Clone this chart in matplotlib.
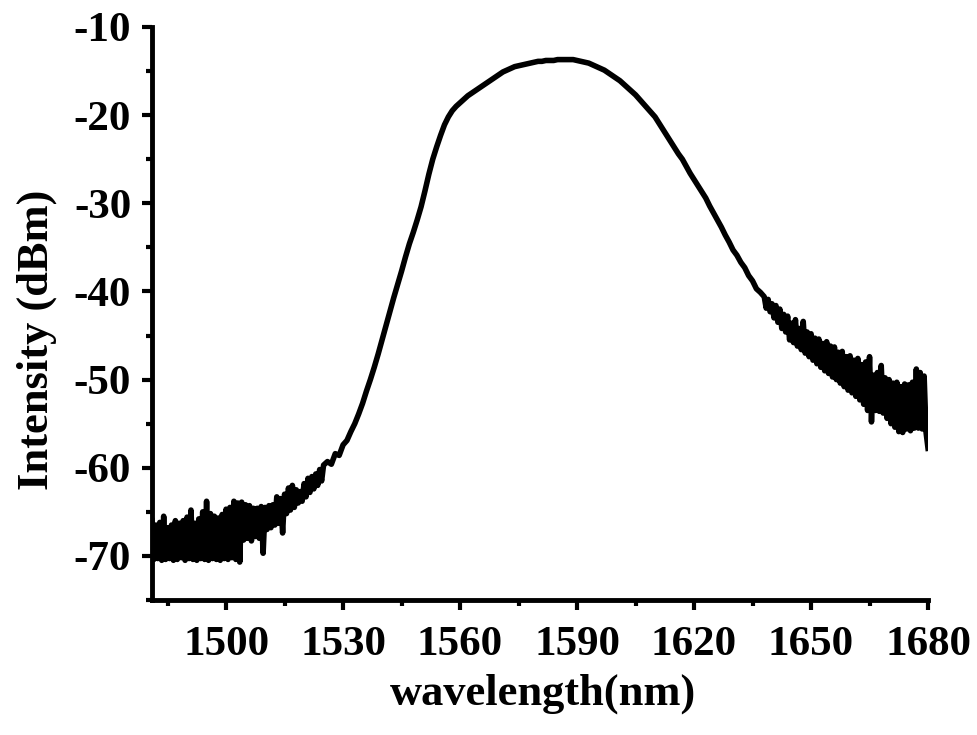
import matplotlib
matplotlib.use("Agg")
import matplotlib.pyplot as plt
from matplotlib.ticker import MultipleLocator

plt.rcParams['font.family'] = ['Liberation Serif', 'DejaVu Serif']
plt.rcParams['axes.unicode_minus'] = False

# wavelength (nm) (denser where the trace is noisy)
wavelength = [
    1481.0, 1481.5, 1482.0, 1482.5, 1483.0, 1483.5, 1484.0, 1484.5, 1485.0, 1485.5,
    1486.0, 1486.5, 1487.0, 1487.5, 1488.0, 1488.5, 1489.0, 1489.5, 1490.0, 1490.5,
    1491.0, 1491.5, 1492.0, 1492.5, 1493.0, 1493.5, 1494.0, 1494.5, 1495.0, 1495.5,
    1496.0, 1496.5, 1497.0, 1497.5, 1498.0, 1498.5, 1499.0, 1499.5, 1500.0, 1500.5,
    1501.0, 1501.5, 1502.0, 1502.5, 1503.0, 1503.5, 1504.0, 1504.5, 1505.0, 1505.5,
    1506.0, 1506.5, 1507.0, 1507.5, 1508.0, 1508.5, 1509.0, 1509.5, 1510.0, 1510.5,
    1511.0, 1511.5, 1512.0, 1512.5, 1513.0, 1513.5, 1514.0, 1514.5, 1515.0, 1515.5,
    1516.0, 1516.5, 1517.0, 1517.5, 1518.0, 1518.5, 1519.0, 1519.5, 1520.0, 1520.5,
    1521.0, 1521.5, 1522.0, 1522.5, 1523.0, 1523.5, 1524.0, 1524.5, 1525.0,
    1526, 1527, 1528, 1529, 1530,
    1531, 1532, 1533, 1534, 1535, 1536, 1537, 1538, 1539, 1540,
    1541, 1542, 1543, 1544, 1545, 1546, 1547, 1548, 1549, 1550,
    1551, 1552, 1553, 1554, 1555, 1556, 1557, 1558, 1559, 1560,
    1561, 1562, 1563, 1564, 1565, 1566, 1567, 1568, 1569, 1570,
    1571, 1572, 1573, 1574, 1575, 1576, 1577, 1578, 1579, 1580,
    1581, 1582, 1583, 1584, 1585, 1586, 1587, 1588, 1589, 1590,
    1591, 1592, 1593, 1594, 1595, 1596, 1597, 1598, 1599, 1600,
    1601, 1602, 1603, 1604, 1605, 1606, 1607, 1608, 1609, 1610,
    1611, 1612, 1613, 1614, 1615, 1616, 1617, 1618, 1619, 1620,
    1621, 1622, 1623, 1624, 1625, 1626, 1627, 1628, 1629, 1630,
    1631, 1632, 1633, 1634, 1635, 1636, 1637,
    1638.0, 1638.5, 1639.0, 1639.5, 1640.0, 1640.5, 1641.0, 1641.5, 1642.0, 1642.5,
    1643.0, 1643.5, 1644.0, 1644.5, 1645.0, 1645.5, 1646.0, 1646.5, 1647.0, 1647.5,
    1648.0, 1648.5, 1649.0, 1649.5, 1650.0, 1650.5, 1651.0, 1651.5, 1652.0, 1652.5,
    1653.0, 1653.5, 1654.0, 1654.5, 1655.0, 1655.5, 1656.0, 1656.5, 1657.0, 1657.5,
    1658.0, 1658.5, 1659.0, 1659.5, 1660.0, 1660.5, 1661.0, 1661.5, 1662.0, 1662.5,
    1663.0, 1663.5, 1664.0, 1664.5, 1665.0, 1665.5, 1666.0, 1666.5, 1667.0, 1667.5,
    1668.0, 1668.5, 1669.0, 1669.5, 1670.0, 1670.5, 1671.0, 1671.5, 1672.0, 1672.5,
    1673.0, 1673.5, 1674.0, 1674.5, 1675.0, 1675.5, 1676.0, 1676.5, 1677.0, 1677.5,
    1678.0, 1678.5, 1679.0, 1679.5, 1680.0,
]

# intensity (dBm) (noisy edges show high/low excursions)
intensity = [
    -66.0, -70.4, -66.5, -70.3, -66.2, -70.5, -65.5, -70.4, -66.8, -70.3,
    -66.5, -70.5, -66.0, -70.4, -66.3, -70.2, -66.0, -70.5, -65.6, -70.3,
    -64.8, -70.4, -66.3, -70.5, -65.8, -70.3, -65.0, -70.4, -63.8, -70.5,
    -65.2, -70.3, -65.5, -70.4, -65.7, -70.5, -65.3, -70.3, -64.7, -70.4,
    -64.5, -70.2, -63.8, -70.4, -64.0, -70.7, -63.9, -68.2, -64.2, -68.0,
    -64.3, -68.3, -64.6, -67.8, -64.6, -68.0, -64.4, -69.7, -64.5, -67.0,
    -64.3, -66.8, -64.2, -66.5, -63.3, -66.3, -63.5, -67.4, -63.0, -65.2,
    -62.3, -64.8, -62.0, -64.5, -62.5, -64.0, -62.7, -63.8, -61.8, -63.3,
    -61.2, -62.8, -61.0, -62.4, -60.7, -62.0, -60.2, -61.5, -59.7,
    -59.3, -59.6, -58.4, -58.6, -57.4,
    -56.9, -55.9, -55.0, -53.9, -52.7, -51.3, -50.0, -48.6, -47.1, -45.5,
    -43.9, -42.3, -40.7, -39.2, -37.7, -36.1, -34.6, -33.3, -31.9, -30.4,
    -28.6, -26.7, -25.0, -23.6, -22.3, -21.1, -20.2, -19.5, -19.0, -18.6,
    -18.2, -17.8, -17.5, -17.2, -16.9, -16.6, -16.3, -16.0, -15.7, -15.4,
    -15.1, -14.9, -14.7, -14.5, -14.4, -14.3, -14.2, -14.1, -14.0, -13.9,
    -13.9, -13.8, -13.8, -13.8, -13.7, -13.7, -13.7, -13.7, -13.7, -13.8,
    -13.9, -14.0, -14.1, -14.3, -14.5, -14.7, -14.9, -15.2, -15.5, -15.8,
    -16.1, -16.5, -16.9, -17.3, -17.7, -18.2, -18.7, -19.2, -19.7, -20.2,
    -20.9, -21.6, -22.3, -23.0, -23.7, -24.4, -25.0, -25.8, -26.6, -27.3,
    -28.0, -28.7, -29.4, -30.3, -31.1, -31.9, -32.7, -33.6, -34.4, -35.3,
    -35.9, -36.7, -37.3, -38.2, -38.8, -39.7, -40.1,
    -40.6, -41.9, -40.9, -42.3, -41.4, -43.0, -41.6, -43.5, -42.0, -44.2,
    -42.6, -44.6, -42.8, -45.5, -43.6, -45.8, -43.2, -46.2, -44.2, -46.6,
    -43.4, -47.0, -44.6, -47.4, -44.8, -47.8, -45.3, -48.2, -45.4, -48.6,
    -45.9, -49.0, -45.7, -49.3, -46.2, -49.7, -46.3, -50.0, -46.9, -50.4,
    -46.8, -50.8, -47.4, -51.2, -47.3, -51.5, -47.8, -51.9, -47.6, -52.3,
    -48.3, -52.8, -48.0, -53.5, -47.4, -54.8, -49.5, -53.5, -49.2, -53.6,
    -48.4, -53.8, -49.8, -54.4, -50.0, -55.0, -50.4, -55.4, -50.3, -55.9,
    -50.8, -56.0, -50.5, -55.6, -50.6, -55.8, -50.3, -55.5, -48.8, -55.5,
    -49.2, -55.6, -49.6, -56.0, -57.8,
]

x_major = [1500, 1530, 1560, 1590, 1620, 1650, 1680]
y_major = [-70, -60, -50, -40, -30, -20, -10]

fig = plt.figure(figsize=(9.78, 7.35), dpi=100)
ax = fig.add_axes([0.1554, 0.1837, 0.7935, 0.7796])

ax.plot(wavelength, intensity, color='black', lw=4.0, solid_joinstyle='round')

ax.set_xlim(1481, 1680)
ax.set_ylim(-75, -10)
ax.set_xticks(x_major)
ax.set_yticks(y_major)
ax.xaxis.set_minor_locator(MultipleLocator(15))
ax.yaxis.set_minor_locator(MultipleLocator(5))

for s in ['top', 'right']:
    ax.spines[s].set_visible(False)
for s in ['left', 'bottom']:
    ax.spines[s].set_linewidth(3.5)
    ax.spines[s].set_capstyle('projecting')

ax.tick_params(which='major', direction='out', length=7, width=3, labelsize=31)
ax.tick_params(axis='x', which='major', pad=12)
ax.tick_params(axis='y', which='major', pad=8)
ax.tick_params(which='minor', direction='out', length=4, width=3)
for lab in ax.get_xticklabels() + ax.get_yticklabels():
    lab.set_fontweight('bold')

ax.set_xlabel('wavelength(nm)', fontsize=32, fontweight='bold')
ax.set_ylabel('Intensity (dBm)', fontsize=32, fontweight='bold')
ax.xaxis.set_label_coords(0.504, -0.128)
ax.yaxis.set_label_coords(-0.122, 0.454)

fig.savefig('out.png', dpi=100)
